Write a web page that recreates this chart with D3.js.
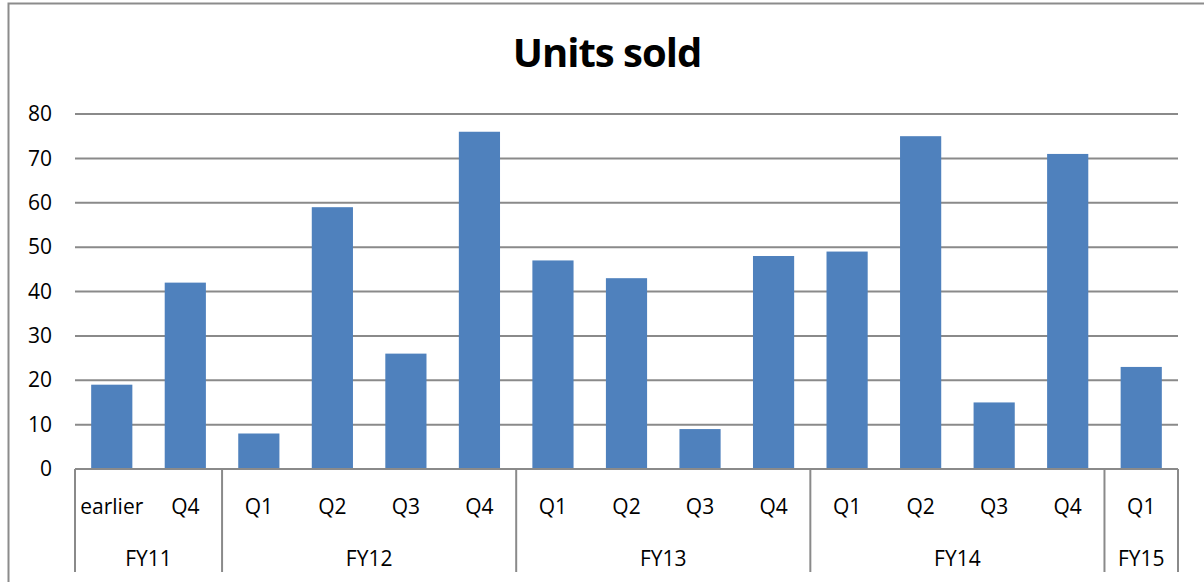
<!DOCTYPE html>
<html>
<head>
    <meta charset="utf-8" />
    <title>Units sold</title>
    <script src="https://cdnjs.cloudflare.com/ajax/libs/d3/7.8.5/d3.min.js"></script>
</head>
<style>
    body {
        margin: 0;
        background-color: #ffffff;
    }

    text {
        font-family: "Open Sans", sans-serif;
        fill: #000000;
    }

    .bar {
        fill: #4f81bd;
    }

    .grid line {
        stroke: #8a8a8a;
        stroke-width: 2px;
    }

    .y.axis path {
        display: none;
    }
</style>
<body>
    <svg id="chart" width="1204" height="582"></svg>

    <script>
        // data
        var quarters = ["earlier", "Q4", "Q1", "Q2", "Q3", "Q4", "Q1", "Q2", "Q3", "Q4", "Q1", "Q2", "Q3", "Q4", "Q1"];
        var years = ["FY11", "FY11", "FY12", "FY12", "FY12", "FY12", "FY13", "FY13", "FY13", "FY13", "FY14", "FY14", "FY14", "FY14", "FY15"];
        var units = [19, 42, 8, 59, 26, 76, 47, 43, 9, 48, 49, 75, 15, 71, 23];
        var yTicks = [0, 10, 20, 30, 40, 50, 60, 70, 80];

        var data = quarters.map(function(q, i) {
            return { idx: i, quarter: q, year: years[i], value: units[i] };
        });

        var svg = d3.select("#chart");

        var plotLeft = 75,
            plotRight = 1178,
            plotTop = 114,
            plotBottom = 469;

        // chart frame (the right and bottom edges are cut off in the picture)
        svg.append("rect")
            .attr("x", 8.5)
            .attr("y", 3.5)
            .attr("width", 1220)
            .attr("height", 620)
            .attr("fill", "none")
            .attr("stroke", "#8c8c8c")
            .attr("stroke-width", 2);

        svg.append("text")
            .attr("x", 607)
            .attr("y", 67)
            .attr("text-anchor", "middle")
            .attr("font-size", "40px")
            .attr("font-weight", "bold")
            .attr("letter-spacing", "-1px")
            .text("Units sold");

        var x = d3.scaleBand()
            .domain(data.map(function(d) { return d.idx; }))
            .range([plotLeft, plotRight])
            .paddingInner(0.44)
            .paddingOuter(0.22);

        var y = d3.scaleLinear()
            .domain([0, 80])
            .range([plotBottom, plotTop]);

        // gridlines
        svg.append("g")
            .attr("class", "grid")
            .selectAll("line")
            .data(yTicks.slice(1))
            .enter().append("line")
            .attr("x1", plotLeft)
            .attr("x2", plotRight)
            .attr("y1", function(d) { return y(d); })
            .attr("y2", function(d) { return y(d); });

        // y axis labels
        var yAxis = d3.axisLeft(y)
            .tickValues(yTicks)
            .tickSize(0)
            .tickPadding(0);

        svg.append("g")
            .attr("class", "y axis")
            .attr("transform", "translate(52,0)")
            .call(yAxis)
            .selectAll("text")
            .attr("font-size", "21px")
            .attr("font-family", "Open Sans, sans-serif")
            .attr("fill", "#000");

        // bars
        svg.selectAll(".bar")
            .data(data)
            .enter().append("rect")
            .attr("class", "bar")
            .attr("x", function(d) { return x(d.idx); })
            .attr("width", x.bandwidth())
            .attr("y", function(d) { return y(d.value); })
            .attr("height", function(d) { return y(0) - y(d.value); });

        // category axis
        svg.append("line")
            .attr("x1", plotLeft)
            .attr("x2", plotRight)
            .attr("y1", plotBottom)
            .attr("y2", plotBottom)
            .attr("stroke", "#8a8a8a")
            .attr("stroke-width", 2);

        svg.selectAll(".qlabel")
            .data(data)
            .enter().append("text")
            .attr("class", "qlabel")
            .attr("x", function(d) { return x(d.idx) + x.bandwidth() / 2; })
            .attr("y", 514)
            .attr("text-anchor", "middle")
            .attr("font-size", "21px")
            .text(function(d) { return d.quarter; });

        // group years
        var groups = [];
        data.forEach(function(d) {
            var last = groups[groups.length - 1];
            if (!last || last.year !== d.year) {
                groups.push({ year: d.year, first: d.idx, last: d.idx });
            } else {
                last.last = d.idx;
            }
        });

        var step = x.step();
        function edgeLeft(i) { return x(i) - step * x.paddingInner() / 2; }
        function edgeRight(i) { return x(i) + x.bandwidth() + step * x.paddingInner() / 2; }

        var dividers = groups.map(function(g) { return edgeLeft(g.first); });
        dividers.push(plotRight);
        dividers[0] = plotLeft;

        svg.selectAll(".divider")
            .data(dividers)
            .enter().append("line")
            .attr("class", "divider")
            .attr("x1", function(d) { return d; })
            .attr("x2", function(d) { return d; })
            .attr("y1", plotBottom)
            .attr("y2", 572)
            .attr("stroke", "#8a8a8a")
            .attr("stroke-width", 2);

        svg.selectAll(".ylabel")
            .data(groups)
            .enter().append("text")
            .attr("class", "ylabel")
            .attr("x", function(g) {
                var a = g.first === 0 ? plotLeft : edgeLeft(g.first);
                var b = g.last === data.length - 1 ? plotRight : edgeRight(g.last);
                return (a + b) / 2;
            })
            .attr("y", 566)
            .attr("text-anchor", "middle")
            .attr("font-size", "21px")
            .text(function(g) { return g.year; });
    </script>
</body>
</html>
